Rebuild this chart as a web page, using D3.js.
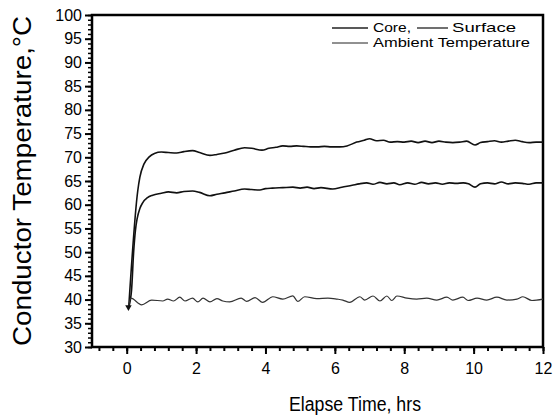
<!DOCTYPE html>
<html>
<head>
<meta charset="utf-8">
<script src="https://cdn.jsdelivr.net/npm/d3@7"></script>
<style>
  body { margin: 0; background: #fff; }
  svg { font-family: "Liberation Sans", Arial, sans-serif; }
</style>
</head>
<body>
<svg id="chart" width="553" height="415"></svg>
<script>
// ************************************
// Data: [hours, degC]
// ************************************
const coreData = [
  [0.06, 38.5], [0.32, 63.0], [0.38, 65.8], [0.5, 68.6], [0.65, 70.1], [0.8, 70.8],
  [1.0, 71.1], [1.2, 71.0], [1.44, 70.9], [1.65, 71.2], [1.9, 71.4], [2.1, 71.0],
  [2.4, 70.4], [2.6, 70.6], [2.83, 70.9], [3.1, 71.5], [3.4, 72.0], [3.6, 71.9],
  [3.9, 71.5], [4.1, 71.9], [4.3, 72.1], [4.5, 72.4], [4.7, 72.3], [4.9, 72.4],
  [5.1, 72.3], [5.3, 72.2], [5.5, 72.2], [5.7, 72.3], [5.9, 72.2], [6.14, 72.2],
  [6.35, 72.4], [6.63, 73.2], [6.85, 73.6], [7.0, 73.9], [7.2, 73.5], [7.4, 73.6],
  [7.6, 73.2], [7.8, 73.3], [8.0, 73.2], [8.2, 73.4], [8.4, 73.1], [8.6, 73.4],
  [8.8, 73.1], [9.0, 73.4], [9.2, 73.2], [9.4, 73.1], [9.6, 73.2], [9.8, 73.4],
  [10.04, 72.6], [10.2, 73.1], [10.4, 73.3], [10.6, 73.5], [10.8, 73.2], [11.0, 73.4],
  [11.2, 73.6], [11.4, 73.3], [11.6, 73.1], [11.8, 73.2], [12.0, 73.2]
];

const surfaceData = [
  [0.06, 38.5], [0.14, 42.0], [0.2, 50.0], [0.25, 54.5], [0.3, 57.0], [0.38, 59.2],
  [0.46, 60.4], [0.6, 61.5], [0.75, 62.0], [1.0, 62.4], [1.2, 62.7], [1.44, 62.5],
  [1.65, 62.8], [1.9, 62.9], [2.1, 62.6], [2.4, 61.9], [2.6, 62.2], [2.83, 62.5],
  [3.1, 62.9], [3.4, 63.3], [3.6, 63.2], [3.84, 63.1], [4.0, 63.4], [4.2, 63.5],
  [4.5, 63.6], [4.79, 63.7], [5.0, 63.5], [5.2, 63.7], [5.4, 63.4], [5.6, 63.6],
  [5.94, 63.3], [6.2, 63.7], [6.5, 64.1], [6.7, 64.4], [6.92, 64.6], [7.1, 64.3],
  [7.3, 64.7], [7.5, 64.4], [7.7, 64.6], [7.87, 64.2], [8.1, 64.6], [8.3, 64.3],
  [8.5, 64.7], [8.7, 64.4], [8.9, 64.6], [9.1, 64.3], [9.3, 64.6], [9.5, 64.5],
  [9.7, 64.6], [9.85, 64.4], [10.04, 63.7], [10.2, 64.4], [10.4, 64.6], [10.6, 64.4],
  [10.8, 64.8], [11.0, 64.4], [11.2, 64.6], [11.4, 64.5], [11.6, 64.3], [11.8, 64.6],
  [12.0, 64.6]
];

const ambientData = [
  [0.05, 38.4], [0.12, 40.3], [0.43, 38.9], [0.72, 39.9], [1.04, 39.7], [1.18, 40.1],
  [1.35, 39.7], [1.53, 40.5], [1.68, 39.7], [1.9, 40.3], [2.05, 39.5], [2.2, 40.3],
  [2.4, 39.5], [2.6, 40.2], [2.77, 39.7], [2.97, 39.5], [3.3, 40.3], [3.46, 39.6],
  [3.7, 40.4], [3.92, 39.4], [4.21, 40.6], [4.5, 40.1], [4.79, 40.8], [4.93, 39.6],
  [5.13, 40.6], [5.48, 40.2], [5.8, 40.3], [6.06, 40.1], [6.23, 39.9], [6.43, 39.4],
  [6.72, 40.6], [6.86, 39.9], [7.1, 40.75], [7.3, 39.7], [7.5, 40.75], [7.64, 39.8],
  [7.79, 40.75], [8.08, 40.3], [8.36, 40.1], [8.65, 40.3], [8.94, 39.9], [9.23, 40.5],
  [9.4, 39.9], [9.69, 40.5], [9.84, 39.8], [10.1, 40.3], [10.38, 39.9], [10.67, 40.5],
  [10.96, 39.9], [11.25, 40.1], [11.42, 40.6], [11.68, 39.8], [12.0, 40.1]
];

const xMajorTicks = [0, 2, 4, 6, 8, 10, 12];
const yMajorTicks = [30, 35, 40, 45, 50, 55, 60, 65, 70, 75, 80, 85, 90, 95, 100];

// ************************************
// Layout
// ************************************
const svg = d3.select("#chart");
const margin = { top: 15, right: 10, bottom: 68, left: 92 };
const width = 553 - margin.left - margin.right;
const height = 415 - margin.top - margin.bottom;

const x = d3.scaleLinear().domain([-1, 12]).range([0, width]);
const y = d3.scaleLinear().domain([30, 100]).range([height, 0]);

const g = svg.append("g").attr("transform", `translate(${margin.left},${margin.top})`);

// minor ticks first, major on top
g.append("g")
    .attr("transform", `translate(0,${height})`)
    .call(d3.axisBottom(x).tickValues(d3.range(-0.8, 12.01, 0.4)).tickSize(4).tickFormat(""))
    .call(a => a.select(".domain").remove())
    .selectAll("line").attr("stroke-width", 2);

g.append("g")
    .call(d3.axisLeft(y).tickValues(d3.range(30, 100.5, 1)).tickSize(4).tickFormat(""))
    .call(a => a.select(".domain").remove())
    .selectAll("line").attr("stroke-width", 1.5);

const xAxis = g.append("g")
    .attr("class", "x axis")
    .attr("transform", `translate(0,${height})`)
    .call(d3.axisBottom(x).tickValues(xMajorTicks).tickSize(7).tickPadding(9))
    .call(a => a.select(".domain").remove());

const yAxis = g.append("g")
    .attr("class", "y axis")
    .call(d3.axisLeft(y).tickValues(yMajorTicks).tickSize(7).tickPadding(3))
    .call(a => a.select(".domain").remove());

g.selectAll(".axis line").attr("stroke-width", 2);
g.selectAll(".axis text")
    .style("font-size", "16px")
    .style("font-family", "'Liberation Sans', Arial, sans-serif")
    .attr("fill", "#000");

// frame
g.append("rect")
    .attr("width", width)
    .attr("height", height)
    .attr("fill", "none")
    .attr("stroke", "#000")
    .attr("stroke-width", 2.5);

// ************************************
// Curves
// ************************************
const line = d3.line()
    .x(d => x(d[0]))
    .y(d => y(d[1]))
    .curve(d3.curveMonotoneX);

g.append("path").datum(coreData)
    .attr("d", line).attr("fill", "none")
    .attr("stroke", "#111").attr("stroke-width", 1.6);

g.append("path").datum(surfaceData)
    .attr("d", line).attr("fill", "none")
    .attr("stroke", "#111").attr("stroke-width", 1.6);

g.append("path").datum(ambientData)
    .attr("d", line).attr("fill", "none")
    .attr("stroke", "#333").attr("stroke-width", 1.2);

// start marker
g.append("path")
    .attr("d", d3.symbol(d3.symbolTriangle, 18))
    .attr("transform", `translate(${x(ambientData[0][0])},${y(ambientData[0][1])}) rotate(180)`)
    .attr("fill", "#111");

// ************************************
// Legend
// ************************************
const legend = svg.append("g").style("font-size", "13px");
const legendItems = [
  { x1: 332, x2: 368, yy: 28, label: "Core,", tx: 373, ty: 32, w: 1.3, tl: 38 },
  { x1: 417, x2: 448, yy: 28, label: "Surface", tx: 452, ty: 32, w: 1.3, tl: 64 },
  { x1: 332, x2: 368, yy: 43, label: "Ambient Temperature", tx: 373, ty: 47, w: 1, tl: 157 }
];
legendItems.forEach(d => {
  legend.append("line")
      .attr("x1", d.x1).attr("x2", d.x2)
      .attr("y1", d.yy).attr("y2", d.yy)
      .attr("stroke", "#222").attr("stroke-width", d.w);
  legend.append("text")
      .attr("x", d.tx).attr("y", d.ty)
      .attr("textLength", d.tl)
      .attr("lengthAdjust", "spacingAndGlyphs")
      .text(d.label);
});

// ************************************
// Axis titles
// ************************************
svg.append("text")
    .attr("x", 355)
    .attr("y", 411)
    .attr("text-anchor", "middle")
    .attr("textLength", 132)
    .attr("lengthAdjust", "spacingAndGlyphs")
    .style("font-size", "20px")
    .text("Elapse Time, hrs");

svg.append("text")
    .attr("transform", "translate(31,181) rotate(-90)")
    .attr("text-anchor", "middle")
    .attr("textLength", 330)
    .attr("lengthAdjust", "spacingAndGlyphs")
    .style("font-size", "25px")
    .text("Conductor Temperature,°C");
</script>
</body>
</html>
